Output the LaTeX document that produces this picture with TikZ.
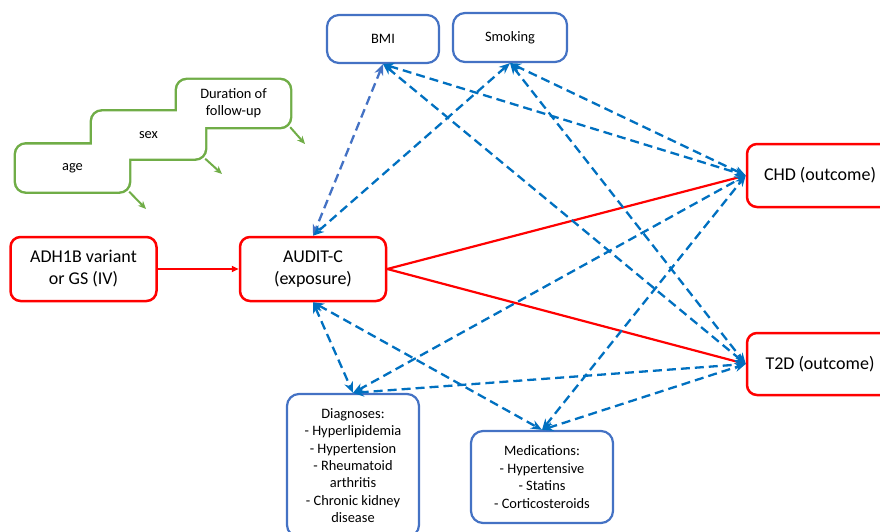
\documentclass[tikz,border=0pt]{standalone}
\usepackage{fontspec}
\setmainfont{Carlito}
\usetikzlibrary{arrows.meta,backgrounds}

\definecolor{boxred}{HTML}{FF0000}
\definecolor{boxblue}{HTML}{4472C4}
\definecolor{linkblue}{HTML}{0070C0}
\definecolor{boxgreen}{HTML}{70AD47}

\tikzset{
  redbox/.style={draw=boxred, line width=2.5pt, rounded corners=10pt, fill=white,
    minimum width=146pt, minimum height=64pt, inner sep=0pt, align=center,
    font=\fontsize{18}{22}\selectfont},
  bluebox/.style={draw=boxblue, line width=2.2pt, rounded corners=12pt, fill=white,
    inner sep=0pt, align=center, font=\fontsize{14.4}{17.4}\selectfont},
  greenbox/.style={fill=white, rounded corners=10pt, minimum width=113pt,
    minimum height=47pt, inner sep=0pt, align=center,
    font=\fontsize{14.4}{16.8}\selectfont},
  link/.style={color=linkblue, line width=2.3pt, dash pattern=on 9pt off 5pt,
    {Stealth[length=11pt,width=9pt]}-{Stealth[length=11pt,width=9pt]}},
  cause/.style={color=boxred, line width=2.2pt, -{Triangle[length=7pt,width=6pt]}},
  adjust/.style={color=boxgreen, line width=2pt, -{Stealth[length=8pt,width=7pt]}}
}

\begin{document}
\begin{tikzpicture}[x=1pt,y=-1pt]
    \useasboundingbox (0,0) rectangle (880,532);
    \clip (0,0) rectangle (880,532);

    \node[greenbox] (age) at (72.5,168) {age};
    \node[greenbox] (sex) at (148.5,135) {sex};
    \node[greenbox] (follow) at (233.5,103.5) {Duration of\\follow-up};
    \begin{pgfonlayer}{background}
        \foreach \b in {age,sex,follow}
            \draw[boxgreen, line width=4.4pt, rounded corners=10pt] (\b.south west) rectangle (\b.north east);
    \end{pgfonlayer}
    \coordinate (agetip) at (146,209);
    \coordinate (sextip) at (222,174);
    \coordinate (followtip) at (305,144);
    \draw[adjust] (age.south east) -- (agetip);
    \draw[adjust] (sex.south east) -- (sextip);
    \draw[adjust] (follow.south east) -- (followtip);

    \node[bluebox, minimum width=112pt, minimum height=48pt] (bmi) at (383,39) {BMI};
    \node[bluebox, minimum width=114pt, minimum height=49pt] (smoke) at (510,37.5) {Smoking};
    \node[redbox] (iv) at (83.5,269) {ADH1B variant\\or GS (IV)};
    \node[redbox] (audit) at (313,269) {AUDIT-C\\(exposure)};
    \node[redbox, minimum height=63pt] (chd) at (820,175.5) {CHD (outcome)};
    \node[redbox, minimum height=62pt] (t2d) at (820,364) {T2D (outcome)};
    \node[bluebox, minimum width=132pt, minimum height=143pt] (diag) at (353,465.5)
        {Diagnoses:\\- Hyperlipidemia\\- Hypertension\\- Rheumatoid\\arthritis\\- Chronic kidney\\disease};
    \node[bluebox, minimum width=142pt, minimum height=92pt] (meds) at (542,477)
        {Medications:\\- Hypertensive\\- Statins\\- Corticosteroids};

    \draw[cause] (iv) -- (audit);
    \draw[cause] (audit.east) -- (chd.west);
    \draw[cause] (audit.east) -- (t2d.west);

    \draw[link, color=boxblue] (bmi.south) -- (audit.north);
    \foreach \a/\b in {smoke.south/audit.north, bmi.south/chd.west, smoke.south/chd.west,
                       bmi.south/t2d.west, smoke.south/t2d.west, audit.south/diag.north,
                       audit.south/meds.north, diag.north/chd.west, diag.north/t2d.west,
                       meds.north/chd.west, meds.north/t2d.west}
        \draw[link] (\a) -- (\b);
\end{tikzpicture}
\end{document}
